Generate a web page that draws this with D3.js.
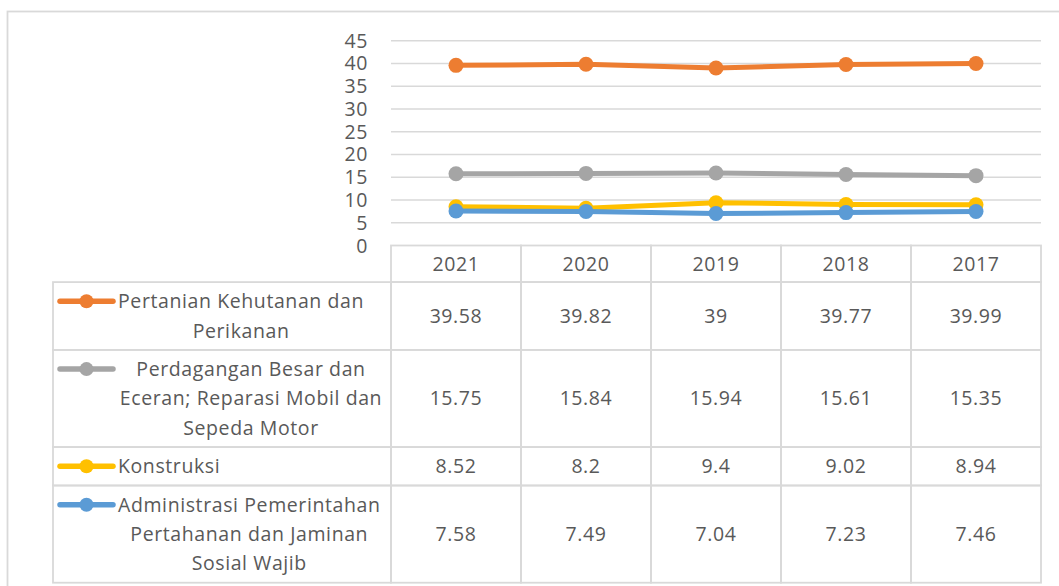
<!DOCTYPE html>
<html lang="id">
<head>
<meta charset="UTF-8">
<title>Distribusi PDRB menurut lapangan usaha</title>
<script src="https://cdn.jsdelivr.net/npm/d3@7"></script>
<style>
    body { margin: 0; background: #fff; }
    svg text { font-family: "Open Sans", Lato, sans-serif; fill: #595959; font-size: 19.5px; letter-spacing: 0.6px; }
    .grid line { stroke: #d9d9d9; stroke-width: 1.5; }
    .cell { stroke: #d9d9d9; stroke-width: 1.8; fill: none; }
</style>
</head>
<body>
<script>
// data
var years = ["2021", "2020", "2019", "2018", "2017"];
var seriesNames = [
    "Pertanian Kehutanan dan Perikanan",
    "Perdagangan Besar dan Eceran; Reparasi Mobil dan Sepeda Motor",
    "Konstruksi",
    "Administrasi Pemerintahan Pertahanan dan Jaminan Sosial Wajib"
];
// baris teks seperti di tabel data
var labelLines = [
    ["Pertanian Kehutanan dan", "Perikanan"],
    ["Perdagangan Besar dan", "Eceran; Reparasi Mobil dan", "Sepeda Motor"],
    ["Konstruksi"],
    ["Administrasi Pemerintahan", "Pertahanan dan Jaminan", "Sosial Wajib"]
];
var pertanian  = [39.58, 39.82, 39, 39.77, 39.99];
var perdagangan = [15.75, 15.84, 15.94, 15.61, 15.35];
var konstruksi = [8.52, 8.2, 9.4, 9.02, 8.94];
var administrasi = [7.58, 7.49, 7.04, 7.23, 7.46];
var yTicks = [0, 5, 10, 15, 20, 25, 30, 35, 40, 45];
var colors = ["#ed7d31", "#a5a5a5", "#ffc000", "#5b9bd5"];

var series = [pertanian, perdagangan, konstruksi, administrasi];

var width = 1059, height = 586;
var svg = d3.select("body").append("svg")
    .attr("width", width).attr("height", height);

// bingkai luar area grafik
svg.append("rect").attr("class", "cell")
    .attr("x", 7.5).attr("y", 11.5)
    .attr("width", 1070).attr("height", 600);

var plotLeft = 391, plotRight = 1041;
var x = d3.scaleBand().domain(years).range([plotLeft, plotRight]);
var y = d3.scaleLinear().domain([0, 45]).range([245.5, 40.7]);

// garis grid
svg.append("g").attr("class", "grid")
    .selectAll("line").data(yTicks.slice(1)).enter().append("line")
    .attr("x1", plotLeft).attr("x2", plotRight)
    .attr("y1", function(d) { return y(d); })
    .attr("y2", function(d) { return y(d); });

// label sumbu y
svg.append("g").selectAll("text").data(yTicks).enter().append("text")
    .attr("x", 368).attr("y", function(d) { return y(d); })
    .attr("dy", "0.36em")
    .attr("text-anchor", "end")
    .text(function(d) { return d; });

// garis dan penanda
var line = d3.line()
    .x(function(d, i) { return x(years[i]) + x.bandwidth() / 2; })
    .y(function(d) { return y(d); });

series.forEach(function(s, k) {
    var g = svg.append("g");
    g.append("path").datum(s)
        .attr("d", line)
        .attr("fill", "none")
        .attr("stroke", colors[k])
        .attr("stroke-width", 5)
        .attr("stroke-linejoin", "round")
        .attr("stroke-linecap", "round");
    g.selectAll("circle").data(s).enter().append("circle")
        .attr("cx", function(d, i) { return x(years[i]) + x.bandwidth() / 2; })
        .attr("cy", function(d) { return y(d); })
        .attr("r", 7.5)
        .attr("fill", colors[k]);
});

// tabel data
var lineH = 29.4, pad = 9;
var headTop = y(0), headH = 36.6;
var tableLeft = 53;
var rows = [];
var rowY = headTop + headH;
labelLines.forEach(function(ls) {
    var h = ls.length * lineH + pad;
    rows.push({ y: rowY, h: h });
    rowY += h;
});

var table = svg.append("g");
// header
years.forEach(function(yr) {
    table.append("rect").attr("class", "cell")
        .attr("x", x(yr)).attr("y", headTop)
        .attr("width", x.bandwidth()).attr("height", headH);
    table.append("text")
        .attr("x", x(yr) + x.bandwidth() / 2)
        .attr("y", headTop + headH / 2).attr("dy", "0.35em")
        .attr("text-anchor", "middle")
        .text(yr);
});

rows.forEach(function(r, k) {
    table.append("rect").attr("class", "cell")
        .attr("x", tableLeft).attr("y", r.y)
        .attr("width", plotLeft - tableLeft).attr("height", r.h);
    years.forEach(function(yr, i) {
        table.append("rect").attr("class", "cell")
            .attr("x", x(yr)).attr("y", r.y)
            .attr("width", x.bandwidth()).attr("height", r.h);
        table.append("text")
            .attr("x", x(yr) + x.bandwidth() / 2)
            .attr("y", r.y + r.h / 2).attr("dy", "0.35em")
            .attr("text-anchor", "middle")
            .text(series[k][i]);
    });

    // kunci legenda
    var firstY = r.y + pad / 2 + lineH / 2;
    table.append("line")
        .attr("x1", 60).attr("x2", 113)
        .attr("y1", firstY).attr("y2", firstY)
        .attr("stroke", colors[k]).attr("stroke-width", 5.5)
        .attr("stroke-linecap", "round");
    table.append("circle")
        .attr("cx", 86.5).attr("cy", firstY).attr("r", 7)
        .attr("fill", colors[k]);

    // teks label
    var lines = labelLines[k];
    var texts = lines.map(function(t, j) {
        return table.append("text")
            .attr("y", firstY + j * lineH).attr("dy", "0.35em")
            .text(t);
    });
    var keyEnd = 118, center = 251;
    if (lines.length === 1) {
        texts[0].attr("x", keyEnd);
    } else {
        var w1 = texts[0].node().getComputedTextLength();
        if (center - w1 / 2 < 132) center = keyEnd + w1 / 2;
        texts.forEach(function(t) {
            t.attr("x", center).attr("text-anchor", "middle");
        });
    }
});
</script>
</body>
</html>
